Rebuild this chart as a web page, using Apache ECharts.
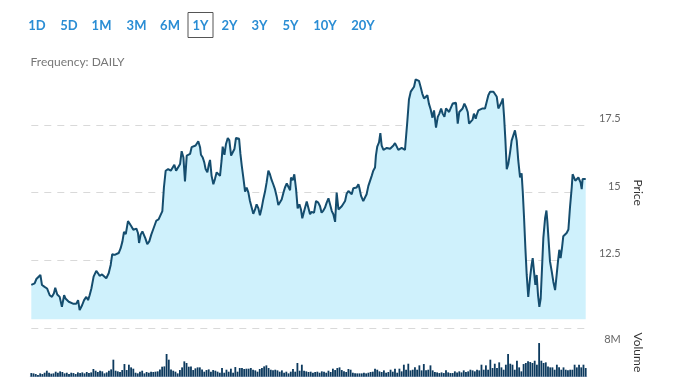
<!DOCTYPE html>
<html><head><meta charset="utf-8">
<script src="https://cdn.jsdelivr.net/npm/echarts@6/dist/echarts.min.js"></script>
<style>html,body{margin:0;padding:0;background:#fff}#c{width:678px;height:381px}</style>
</head><body><div id="c"></div><script>
// ---------- data ----------
const rangeButtons = ['1D','5D','1M','3M','6M','1Y','2Y','3Y','5Y','10Y','20Y'];
const activeRange = '1Y';
const frequencyText = 'Frequency: DAILY';
const priceTickLabels = [12.5, 15, 17.5];
const volumeTickLabel = '8M';
// trading-day position (0..250) and closing price
const priceDays = [
0.0,1.5,2.3,3.0,4.1,4.8,6.0,7.1,8.3,9.3,10.2,10.8,11.7,12.8,13.8,14.8,15.4,16.3,16.9,17.8,18.8,19.6,20.3,21.1,21.8,22.9,23.8,24.8,25.6,26.3,27.1,28.1,29.3,30.1,30.8,31.9,32.8,33.8,34.9,35.8,36.5,37.6,38.5,39.4,40.3,41.1,41.8,42.6,43.6,44.4,45.1,46.0,46.6,47.4,48.1,48.6,49.3,50.1,50.8,51.4,52.3,53.2,54.1,54.9,55.6,56.4,57.4,58.3,59.1,59.8,60.6,61.7,62.9,63.5,
64.5,65.3,66.0,67.1,67.8,68.6,69.3,70.1,70.8,71.6,72.3,73.1,74.1,74.9,75.3,76.1,76.5,77.3,78.0,78.6,79.4,80.1,80.6,81.3,82.1,82.8,83.6,84.3,85.1,85.8,86.3,87.1,87.8,88.6,89.3,90.1,90.8,91.6,92.3,93.1,93.7,94.3,94.9,95.6,96.4,97.1,97.9,98.6,99.4,100.1,100.9,101.6,102.4,103.1,103.9,104.6,105.4,106.1,106.9,107.6,108.4,109.1,109.9,110.6,111.4,112.2,112.9,113.7,114.4,115.2,115.9,116.7,117.1,117.9,118.6,119.4,120.1,120.9,121.6,122.2,123.1,124.2,124.9,
125.7,126.4,127.5,128.4,129.4,130.2,130.9,131.7,132.4,133.2,134.0,134.7,135.5,136.2,137.0,137.7,138.5,139.2,140.0,140.7,141.5,142.2,143.0,143.7,144.5,145.2,146.0,146.7,147.5,147.9,148.7,149.7,150.5,151.2,152.0,152.7,153.5,154.2,155.0,155.4,156.0,156.8,157.4,158.0,158.8,159.5,160.3,161.0,161.8,162.5,163.3,164.0,164.8,165.5,166.3,167.0,167.8,168.5,169.0,169.6,170.3,171.1,171.8,172.6,173.3,174.1,174.8,175.6,176.3,177.1,177.8,178.6,179.3,180.1,180.9,181.6,182.5,183.3,184.0,184.8,185.5,186.3,
187.0,187.6,188.4,189.3,190.0,190.8,191.5,192.3,193.0,193.8,194.5,195.3,196.0,196.8,197.4,198.3,199.0,199.6,200.4,200.8,201.6,202.3,203.5,204.6,205.3,206.1,206.9,207.6,208.4,209.1,209.9,210.6,211.4,212.1,212.6,213.2,213.8,214.4,215.1,215.9,216.6,217.4,218.1,218.9,219.6,220.4,221.1,221.6,222.2,222.8,223.4,224.1,224.9,225.6,226.1,226.7,227.3,227.9,228.5,229.1,229.7,230.3,230.9,231.7,232.3,232.7,233.3,233.9,234.7,235.4,236.2,236.9,237.5,238.1,238.7,239.3,239.9,240.7,241.4,242.2,242.9,243.7,244.1,244.7,245.3,245.9,246.7,247.1,247.7,248.2,248.6,249.2,250.0
];
const prices = [
11.59,11.65,11.81,11.77,11.96,11.59,11.52,11.46,11.21,11.15,11.28,11.49,11.24,11.15,10.78,11.21,11.09,11.12,10.97,10.99,10.90,10.97,10.90,11.03,10.66,10.84,11.03,11.15,11.03,11.21,11.46,11.90,12.11,12.02,11.93,11.98,11.96,11.84,12.02,12.33,12.73,12.70,12.70,12.77,12.95,13.20,13.55,13.47,13.95,13.88,13.76,13.63,13.57,13.67,13.51,13.14,13.45,13.57,13.55,13.32,13.10,13.20,13.45,13.63,13.63,13.97,14.01,14.05,14.32,15.19,15.81,15.87,15.81,15.78,
16.03,15.81,15.87,16.06,16.53,16.30,15.41,16.37,16.30,16.43,16.68,16.74,16.74,16.80,16.90,16.68,16.40,16.30,16.12,15.87,15.75,16.06,16.21,15.62,15.31,15.50,15.75,15.68,15.62,16.18,16.70,16.40,16.80,17.02,16.93,16.37,16.43,16.61,17.02,17.07,16.99,16.43,16.00,15.56,15.04,15.19,15.00,14.69,14.44,14.22,14.38,14.57,14.42,14.16,14.44,14.75,15.04,15.37,15.81,15.68,15.46,15.31,15.12,14.88,14.54,14.57,14.75,15.00,15.19,15.34,15.29,15.09,15.56,15.46,15.68,15.12,14.42,14.57,14.38,14.05,14.34,14.67,14.63,
14.20,14.29,14.26,14.69,14.63,14.50,14.26,14.34,14.44,14.63,14.79,14.57,14.32,14.20,13.92,15.00,14.38,14.44,14.50,14.50,14.69,14.96,15.06,15.04,14.94,15.16,15.13,15.19,15.31,15.19,14.88,14.69,14.63,14.94,15.25,15.29,15.62,15.81,15.93,16.37,16.70,16.86,17.20,16.74,16.58,16.62,16.65,16.65,16.62,16.55,16.74,16.83,16.70,16.58,16.55,16.65,16.68,16.58,16.65,17.67,18.44,18.73,18.66,18.91,19.18,19.22,19.13,18.89,18.66,18.48,18.41,18.60,18.29,18.07,17.77,18.04,17.40,17.80,17.92,18.11,17.92,17.80,
18.11,18.17,17.98,17.92,18.29,18.35,18.32,17.55,17.98,18.04,18.11,18.29,18.17,17.98,17.55,17.49,17.70,17.92,17.73,17.86,18.04,18.07,18.11,18.11,18.17,18.60,18.73,18.76,18.73,18.76,18.54,18.11,18.04,18.35,18.48,17.80,16.92,15.87,16.06,16.49,16.92,16.99,17.30,16.92,16.18,15.56,15.71,15.06,14.07,12.95,11.96,11.15,11.84,12.33,12.58,12.08,11.59,11.96,11.21,10.78,11.09,12.21,13.33,14.07,14.34,13.95,13.20,12.46,12.08,11.71,11.40,11.96,12.46,12.89,12.58,12.95,13.39,13.45,13.51,13.64,14.44,15.19,15.68,15.56,15.44,15.37,15.56,15.62,15.37,15.13,15.50,15.56,15.50
];
// daily volume, millions of shares (one per trading day)
const volumes = [
0.78,0.71,0.57,0.36,0.71,0.57,0.85,1.28,0.85,0.64,0.71,1.07,0.85,1.14,1.00,0.71,0.85,0.57,0.85,0.78,
0.57,0.92,0.78,0.92,0.71,1.00,0.78,0.92,1.64,1.28,1.00,1.28,1.14,0.71,0.92,1.28,1.56,3.63,1.28,1.14,
1.00,1.42,2.70,1.42,2.56,1.99,1.71,0.85,0.71,1.07,1.28,0.71,1.00,0.85,1.07,1.00,1.07,1.14,1.56,2.13,
2.20,4.84,3.63,1.56,1.28,1.07,0.71,1.42,1.99,3.27,2.92,2.13,2.20,1.42,1.78,1.99,1.99,1.56,1.07,1.42,
1.56,1.07,1.42,1.28,1.07,
0.85,1.85,0.85,1.49,1.07,1.71,0.85,2.06,1.07,1.85,1.85,1.64,1.71,1.71,1.85,1.49,1.35,1.07,1.64,1.85,
2.20,2.42,1.85,1.49,1.35,1.49,1.35,1.07,1.35,0.85,1.07,0.71,1.07,1.64,1.07,2.92,1.28,2.56,1.28,1.14,
1.00,1.07,0.85,1.00,1.07,0.85,1.14,1.07,0.85,1.28,1.00,1.71,1.42,1.85,1.99,1.42,1.14,1.00,1.64,1.49,
0.85,0.71,0.71,0.71,0.71,0.85,0.71,0.85,1.00,1.07,1.71,1.49,1.14,1.00,1.35,0.85,1.00,1.49,1.07,1.71,
0.85,1.71,1.14,
2.56,1.49,2.77,1.35,1.49,1.99,1.49,2.42,1.35,2.70,1.35,1.49,2.42,1.35,1.00,0.92,0.78,0.92,0.78,1.35,
0.92,0.78,0.78,1.14,0.92,1.14,0.92,1.35,1.00,1.14,1.49,1.35,1.14,1.49,1.35,2.56,1.49,2.42,1.49,3.63,
1.85,2.77,1.85,3.06,1.99,1.49,2.56,4.84,2.77,2.56,1.49,3.41,1.99,1.14,2.70,2.92,3.27,3.13,2.92,3.41,
2.56,7.18,3.41,2.92,3.06,2.20,1.99,1.99,1.49,2.56,1.99,1.49,1.99,1.49,1.35,1.49,1.49,2.56,1.99,2.56,
1.99,2.56,1.85
];
// trading-day indices where a new two-month period starts (tick marks)
const periodStartDays = [6,49,91,134,175,215];
const tradingDays = volumes.map((v, i) => 'Day ' + (i + 1));

// ---------- layout ----------
const buttonCenters = [37,69,101.5,136.5,170,200.5,229.5,259.5,290.5,325,363];
const FONT = 'Lato, "Open Sans", sans-serif';

const chart = echarts.init(document.getElementById('c'), null, {renderer: 'canvas'});

const graphics = rangeButtons.map((b, i) => ({
  type: 'text', x: buttonCenters[i], y: 26,
  style: {text: b, fill: '#2a8dd4', font: 'bold 13px ' + FONT, textAlign: 'center', textVerticalAlign: 'middle', align: 'center', verticalAlign: 'middle'}
}));
const ai = rangeButtons.indexOf(activeRange);
graphics.push({type: 'rect', shape: {x: buttonCenters[ai] - 12.5, y: 12.5, width: 25, height: 25},
  style: {fill: 'none', stroke: '#555', lineWidth: 1}});
graphics.push({type: 'text', x: 30.5, y: 62,
  style: {text: frequencyText, fill: '#777', font: '12px ' + FONT, textVerticalAlign: 'middle', verticalAlign: 'middle'}});

chart.setOption({
  animation: false,
  graphic: graphics,
  grid: [
    {left: 31.3, right: 92.3, top: 57.3, height: 270.7},
    {left: 30.2, right: 91.2, top: 328, height: 48.7}
  ],
  xAxis: [
    {type: 'value', gridIndex: 0, min: 0, max: 250, show: false},
    {type: 'category', gridIndex: 1, data: tradingDays, boundaryGap: true,
     axisLine: {lineStyle: {color: '#ccd6eb', width: 1}},
     axisTick: {length: 5, lineStyle: {color: '#ccd6eb'}, interval: (idx) => periodStartDays.includes(idx)},
     axisLabel: {show: false}}
  ],
  yAxis: [
    {type: 'value', gridIndex: 0, position: 'right', min: 10, max: 20, interval: 2.5,
     axisLine: {show: false}, axisTick: {show: false},
     splitLine: {show: true, showMinLine: true, showMaxLine: false, lineStyle: {color: '#d9d9d9', type: [7, 6], width: 1}},
     axisLabel: {showMinLabel: false, showMaxLabel: false, align: 'right', verticalAlign: 'bottom', padding: [0, 0, 1, 0],
       margin: 35, color: '#666', fontSize: 11, fontFamily: FONT,
       formatter: v => priceTickLabels.includes(v) ? String(v) : ''},
     name: 'Price', nameLocation: 'middle', nameRotate: -90, nameGap: 46,
     nameTextStyle: {color: '#333', fontSize: 12, fontFamily: FONT}},
    {type: 'value', gridIndex: 1, position: 'right', min: 0, max: 10.39, interval: 8,
     axisLine: {show: false}, axisTick: {show: false}, splitLine: {show: false},
     axisLabel: {showMinLabel: false, showMaxLabel: false, align: 'right', margin: 34, color: '#666', fontSize: 11, fontFamily: FONT,
       formatter: v => v === 8 ? volumeTickLabel : ''},
     name: 'Volume', nameLocation: 'middle', nameRotate: -90, nameGap: 45,
     nameTextStyle: {color: '#333', fontSize: 12, fontFamily: FONT}}
  ],
  series: [
    {type: 'line', xAxisIndex: 0, yAxisIndex: 0, data: priceDays.map((d, i) => [d, prices[i]]),
     symbol: 'none', showSymbol: false, silent: true,
     lineStyle: {color: '#154d6e', width: 2},
     areaStyle: {color: '#cff1fc', opacity: 1, origin: 10.32}},
    {type: 'bar', xAxisIndex: 1, yAxisIndex: 1, data: volumes, barWidth: '82%', silent: true,
     itemStyle: {color: '#0d3a5e'}}
  ]
});
</script></body></html>
